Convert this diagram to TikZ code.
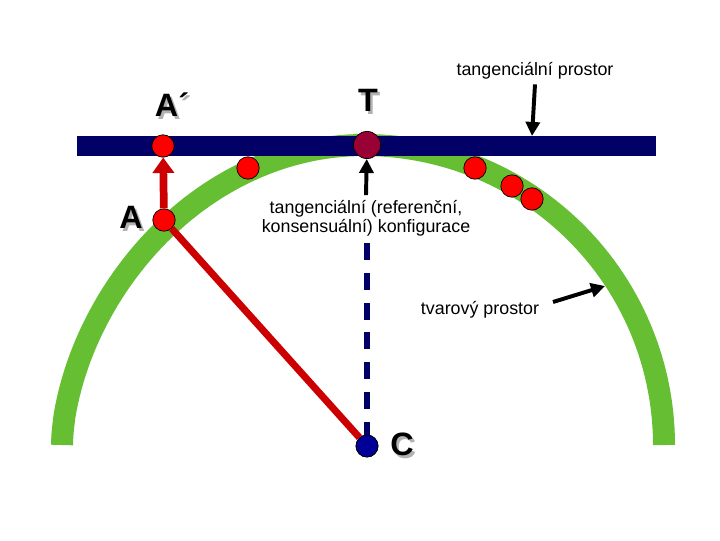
\documentclass[tikz,border=0pt]{standalone}
\usepackage{fontspec}
\setmainfont{Liberation Sans}
\usetikzlibrary{arrows.meta,positioning}
\definecolor{arcgreen}{RGB}{102,191,51}
\definecolor{barnavy}{RGB}{0,0,102}
\definecolor{ptred}{RGB}{255,0,0}
\definecolor{linered}{RGB}{204,0,0}
\definecolor{tmaroon}{RGB}{153,0,51}
\definecolor{cnavy}{RGB}{0,0,153}
\newcommand{\shadowlbl}[1]{\makebox[0pt][l]{\hspace{1.8pt}\raisebox{-1.8pt}{\color{black!30}#1}}#1}

\begin{document}
\begin{tikzpicture}[x=0.025cm,y=-0.025cm,
  every node/.style={font=\fontsize{12.7}{13.5}\selectfont},
  redpt/.style={circle,draw=black,line width=.5pt,fill=ptred,inner sep=0pt,minimum size=0.56cm},
  biglbl/.style={font=\fontsize{23}{26}\selectfont\bfseries},
  blackarrow/.style={line width=2.8pt,-{Triangle[width=10pt,length=10pt]}},
  redarrow/.style={draw=linered,line width=5.5pt,-{Triangle[width=15pt,length=11pt]}}]
\useasboundingbox (0,0) rectangle (720,540);
% shape space and tangent space
\draw[arcgreen,line width=0.55cm]
  plot[domain=180:90,samples=60] ({364+302*cos(\x)},{445-300*abs(sin(\x))^1.15})
  -- plot[domain=90:0,samples=60] ({364+300*cos(\x)},{445-300*abs(sin(\x))});
\fill[barnavy] (77,136) rectangle (656,156);
% points
\node[redpt] (Ap) at (163,146) {};
\node[redpt] (A) at (164,220) {};
\node[redpt] (p1) at (248,168) {};
\node[redpt] (p2) at (475,168) {};
\node[redpt] (p3) at (512,186) {};
\node[redpt] (p4) at (532,199) {};
\node[circle,draw=black,line width=.5pt,fill=tmaroon,inner sep=0pt,minimum size=0.68cm] (T) at (367,145) {};
\node[circle,draw=black,line width=.5pt,fill=cnavy,inner sep=0pt,minimum size=0.55cm] (C) at (367,446) {};
% labels
\node[biglbl] (lAp) at (172,106) {\shadowlbl{A´}};
\node[biglbl] (lT) at (368,102) {\shadowlbl{T}};
\node[biglbl] (lA) at (131,219) {\shadowlbl{A}};
\node[biglbl] (lC) at (402,446) {\shadowlbl{C}};
\node (tp) at (535,71) {tangenciální prostor};
\node[align=center] (cfg) at (366,218) {tangenciální (referenční,\\konsensuální) konfigurace};
\node (tv) at (480,310) {tvarový prostor};
% connectors
\coordinate (dtop) at (367,243);
\coordinate (barhit) at (532,136);
\coordinate (tvs) at (553,302);
\coordinate (tve) at (605,286);
\draw[linered,line width=5pt] (A) -- (C);
\draw[barnavy,line width=4.3pt,dash pattern=on 12pt off 9.2pt] (dtop) -- (C);
\draw[redarrow] (A) -- (Ap);
\node[circle,draw=black,line width=.5pt,fill=cnavy,inner sep=0pt,minimum size=0.55cm] at (C) {};
\draw[blackarrow] (cfg.north) -- (T);
\draw[blackarrow] (tp.south) -- (barhit);
\draw[blackarrow] (tvs) -- (tve);
\end{tikzpicture}
\end{document}
